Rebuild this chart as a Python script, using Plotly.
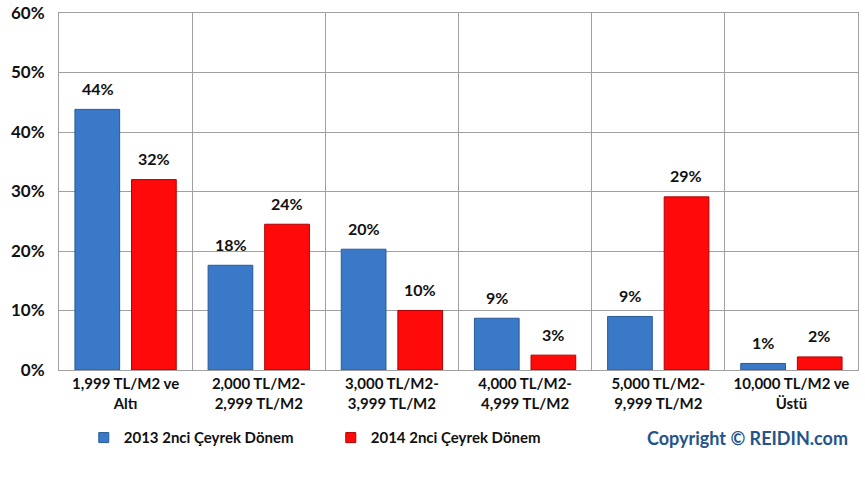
import plotly.graph_objects as go

categories = ["1,999 TL/M2 ve<br>Altı", "2,000 TL/M2-<br>2,999 TL/M2", "3,000 TL/M2-<br>3,999 TL/M2",
              "4,000 TL/M2-<br>4,999 TL/M2", "5,000 TL/M2-<br>9,999 TL/M2", "10,000 TL/M2 ve<br>Üstü"]
series_names = ["2013 2nci Çeyrek Dönem", "2014 2nci Çeyrek Dönem"]
series_2013 = [43.8, 17.6, 20.3, 8.7, 9.0, 1.1]
series_2014 = [32.0, 24.5, 10.0, 2.5, 29.1, 2.2]
labels_2013 = ["44%", "18%", "20%", "9%", "9%", "1%"]
labels_2014 = ["32%", "24%", "10%", "3%", "29%", "2%"]
y_ticks = [0, 10, 20, 30, 40, 50, 60]
y_tick_labels = ["0%", "10%", "20%", "30%", "40%", "50%", "60%"]

FONT = "Lato"
BLUE, BLUE_EDGE = "#3a78c8", "#2a5a96"
RED, RED_EDGE = "#ff0a0a", "#b00000"

fig = go.Figure()
fig.add_trace(go.Bar(name=series_names[0], x=categories, y=series_2013, showlegend=False,
                     marker=dict(color=BLUE, line=dict(color=BLUE_EDGE, width=1))))
fig.add_trace(go.Bar(name=series_names[1], x=categories, y=series_2014, showlegend=False,
                     marker=dict(color=RED, line=dict(color=RED_EDGE, width=1))))
# legend entries with small square symbols
for nm, col, edge in [(series_names[0], BLUE, BLUE_EDGE), (series_names[1], RED, RED_EDGE)]:
    fig.add_trace(go.Scatter(name=nm, x=[None], y=[None], mode="markers",
                             marker=dict(symbol="square", size=10, color=col, line=dict(color=edge, width=1))))

ann = []
for c, v, t in zip(categories, series_2013, labels_2013):
    ann.append(dict(x=c, y=v, text=t, xref="x", yref="y", showarrow=False, xshift=-28, yshift=21,
                    font=dict(family=FONT, size=16, color="#111", weight="bold")))
for c, v, t in zip(categories, series_2014, labels_2014):
    ann.append(dict(x=c, y=v, text=t, xref="x", yref="y", showarrow=False, xshift=28, yshift=21,
                    font=dict(family=FONT, size=16, color="#111", weight="bold")))
ann.append(dict(x=0.99, y=-0.19, xref="paper", yref="paper", xanchor="right", yanchor="middle",
                text="Copyright © REIDIN.com", showarrow=False,
                font=dict(family=FONT, size=18, color="#24548a", weight="bold")))

fig.update_layout(
    width=865, height=490, paper_bgcolor="white", plot_bgcolor="white",
    margin=dict(l=59, r=7, t=13, b=120, autoexpand=False),
    barmode="group", bargap=0.15, bargroupgap=0.21,
    font=dict(family=FONT, size=16, color="#111", weight="bold"),
    annotations=ann,
    legend=dict(orientation="h", x=0.031, y=-0.19, xanchor="left", yanchor="middle",
                font=dict(family=FONT, size=15, color="#111", weight="bold"),
                entrywidth=202, itemwidth=30, bgcolor="rgba(0,0,0,0)"),
    xaxis=dict(tickson="boundaries", showgrid=True, gridcolor="#a0a0a0", gridwidth=1,
               showline=True, linecolor="#a0a0a0", mirror=True, ticks="", automargin=False,
               tickfont=dict(family=FONT, size=15, color="#111", weight="bold")),
    yaxis=dict(range=[0, 60], tickvals=y_ticks, ticktext=y_tick_labels, showgrid=True, gridcolor="#a0a0a0",
               showline=True, linecolor="#a0a0a0", mirror=True, zeroline=False, ticks="",
               automargin=False, ticklabelstandoff=10, ticklabeloverflow="allow",
               tickfont=dict(family=FONT, size=17, color="#111", weight="bold")),
)
fig.write_html("out.html", config={"displayModeBar": False},
               post_script="document.body.style.margin='0px';")
